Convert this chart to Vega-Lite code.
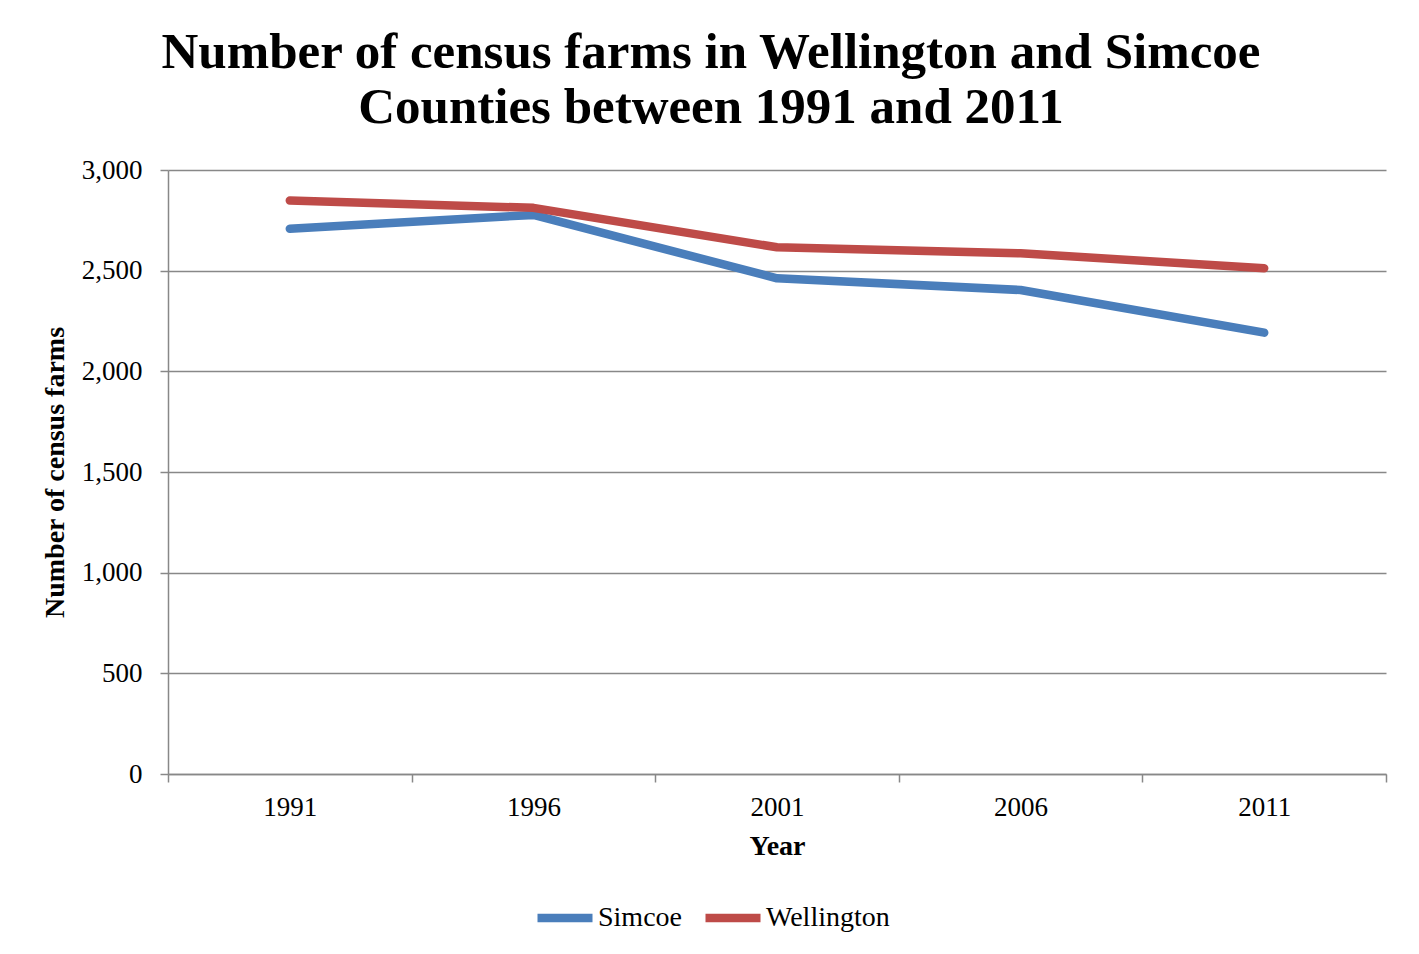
{
  "$schema": "https://vega.github.io/schema/vega-lite/v6.json",
  "autosize": {"type": "none"},
  "width": 1218,
  "height": 604,
  "padding": {"left": 168, "top": 170, "right": 33, "bottom": 180},
  "background": "white",
  "title": {
    "text": ["Number of census farms in Wellington and Simcoe", "Counties between 1991 and 2011"],
    "font": "Liberation Serif",
    "fontSize": 51,
    "fontWeight": "bold",
    "color": "black",
    "anchor": "middle",
    "dx": -66,
    "lineHeight": 55,
    "offset": 22
  },
  "data": {
    "values": [
      {"Year": "1991", "County": "Simcoe", "Farms": 2708},
      {"Year": "1996", "County": "Simcoe", "Farms": 2777},
      {"Year": "2001", "County": "Simcoe", "Farms": 2462},
      {"Year": "2006", "County": "Simcoe", "Farms": 2404},
      {"Year": "2011", "County": "Simcoe", "Farms": 2192},
      {"Year": "1991", "County": "Wellington", "Farms": 2848},
      {"Year": "1996", "County": "Wellington", "Farms": 2812},
      {"Year": "2001", "County": "Wellington", "Farms": 2616},
      {"Year": "2006", "County": "Wellington", "Farms": 2586},
      {"Year": "2011", "County": "Wellington", "Farms": 2512}
    ]
  },
  "mark": {"type": "line", "strokeWidth": 8.5, "strokeCap": "round", "strokeJoin": "round"},
  "encoding": {
    "x": {
      "field": "Year",
      "type": "ordinal",
      "scale": {"type": "band", "paddingInner": 0, "paddingOuter": 0},
      "axis": {
        "title": "Year",
        "labelAngle": 0,
        "tickBand": "extent",
        "tickSize": 8,
        "labelPadding": 12,
        "titlePadding": 12
      }
    },
    "y": {
      "field": "Farms",
      "type": "quantitative",
      "scale": {"domain": [0, 3000], "nice": false},
      "axis": {
        "title": "Number of census farms",
        "values": [0, 500, 1000, 1500, 2000, 2500, 3000],
        "format": ",d",
        "tickSize": 8,
        "labelPadding": 18,
        "titlePadding": 12,
        "grid": true
      }
    },
    "color": {
      "field": "County",
      "type": "nominal",
      "scale": {"domain": ["Simcoe", "Wellington"], "range": ["#4A7EBB", "#BE4B48"]},
      "legend": {
        "title": null,
        "orient": "none",
        "direction": "horizontal",
        "legendX": 365,
        "legendY": 716,
        "symbolType": "stroke",
        "symbolSize": 3025,
        "symbolStrokeWidth": 8.5,
        "labelOffset": 1,
        "columnPadding": 6
      }
    }
  },
  "config": {
    "view": {"stroke": null},
    "axis": {
      "labelFont": "Liberation Serif",
      "labelFontSize": 27,
      "labelColor": "black",
      "titleFont": "Liberation Serif",
      "titleFontSize": 28,
      "titleFontWeight": "bold",
      "titleColor": "black",
      "domainColor": "#888888",
      "domainWidth": 1.5,
      "tickColor": "#888888",
      "tickWidth": 1.5,
      "gridColor": "#888888",
      "gridWidth": 1.5,
      "gridOpacity": 1
    },
    "axisX": {"grid": false},
    "legend": {
      "labelFont": "Liberation Serif",
      "labelFontSize": 28,
      "labelColor": "black"
    }
  }
}
